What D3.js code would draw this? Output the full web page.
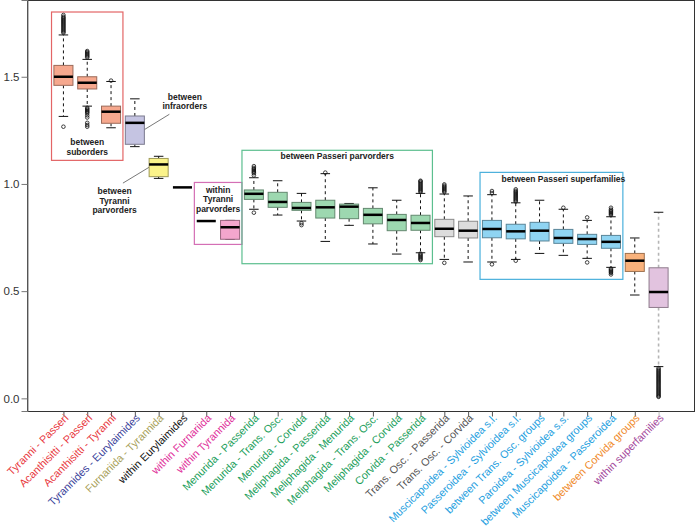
<!DOCTYPE html>
<html><head><meta charset="utf-8">
<script src="https://cdn.jsdelivr.net/npm/d3@7"></script>
<style>body{margin:0;background:#fff}svg{display:block;font-family:"Liberation Sans",Arial,sans-serif}</style>
</head><body><svg id="c" width="696" height="530"></svg>
<script>
const categories = ["Tyranni - Passeri","Acanthisitti - Passeri","Acanthisitti - Tyranni","Tyrannides - Eurylaimides","Furnariida - Tyrannida","within Eurylaimides","within Furnariida","within Tyrannida","Menurida - Passerida","Menurida - Trans. Osc.","Menurida - Corvida","Meliphagida - Passerida","Meliphagida - Menurida","Meliphagida - Trans. Osc.","Meliphagida - Corvida","Corvida - Passerida","Trans. Osc. - Passerida","Trans. Osc. - Corvida","Muscicapoidea - Sylvioidea s.l.","Passeroidea - Sylvioidea s.l.","between Trans. Osc. groups","Paroidea - Sylvioidea s.s.","between Muscicapoidea groups","Muscicapoidea - Passeroidea","between Corvida groups","within superfamilies"];
const groups = ["sub","sub","sub","infra","tyrpar","eur","wtyr","wtyr","pp","pp","pp","pp","pp","pp","pp","pp","trans","trans","sup","sup","sup","sup","sup","sup","corv","wsup"];
const medians = [1.500,1.472,1.337,1.285,1.091,0.984,0.827,0.798,0.954,0.916,0.888,0.891,0.894,0.856,0.832,0.818,0.791,0.782,0.790,0.779,0.782,0.748,0.743,0.730,0.642,0.496];
const q1s = [1.460,1.443,1.283,1.185,1.034,0.984,0.827,0.742,0.928,0.891,0.877,0.841,0.838,0.814,0.782,0.784,0.754,0.748,0.749,0.744,0.734,0.723,0.718,0.700,0.592,0.424];
const q3s = [1.553,1.500,1.363,1.317,1.119,0.984,0.827,0.830,0.972,0.961,0.914,0.924,0.906,0.886,0.858,0.854,0.835,0.826,0.830,0.812,0.821,0.788,0.765,0.760,0.676,0.609];
const whiskerLow = [1.315,1.363,1.262,1.174,1.026,0.984,0.827,0.742,0.882,0.855,0.827,0.732,0.807,0.720,0.673,0.679,0.648,0.636,0.636,0.648,0.676,0.667,0.653,0.611,0.482,0.148];
const whiskerHigh = [1.695,1.581,1.478,1.397,1.129,0.984,0.827,0.830,1.029,1.015,0.956,1.048,0.909,0.982,0.924,0.956,0.953,0.944,0.950,0.912,0.924,0.882,0.830,0.847,0.748,0.868];
const outliers = [
  [1.267,1.705,1.71,1.715,1.72,1.725,1.73,1.735,1.74,1.745,1.75,1.755,1.76,1.765,1.77,1.775,1.78,1.788],
  [1.59,1.595,1.60,1.605,1.61,1.615,1.62,1.355,1.35,1.345,1.34,1.335,1.33,1.32,1.31,1.285,1.275,1.267],
  [1.482],[],[],[],[],[],
  [1.04,1.05,1.055,1.06,1.065,1.07,1.075,1.083,0.866],
  [],[0.817,0.808],[1.053],[],[],[],
  [0.962,0.967,0.972,0.977,0.982,0.987,0.992,0.997,1.002,1.007,1.012,1.015,0.675,0.67,0.665,0.66,0.655,0.65,0.645],
  [0.962,0.967,0.972,0.977,0.982,0.987,0.992,0.998,0.632],
  [],[0.958,0.967,0.625],
  [0.918,0.923,0.928,0.933,0.938,0.943,0.948,0.953,0.958,0.963,0.968,0.975,0.642],
  [],[0.889],[0.844,0.634],
  [0.855,0.86,0.865,0.87,0.875,0.88,0.889,0.605,0.6,0.595,0.59,0.585,0.578],
  [],
  [0.141,0.135,0.13,0.125,0.12,0.115,0.11,0.105,0.1,0.095,0.09,0.085,0.08,0.075,0.07,0.065,0.06,0.055,0.05,0.045,0.04,0.035,0.03,0.025,0.02,0.015,0.01,0.007]
];
const yTicks = [0, 0.5, 1.0, 1.5];
const fillColors = {sub:"#f6a88e",infra:"#c5c4e2",tyrpar:"#fbf38a",eur:"none",wtyr:"#f3a6cd",pp:"#9dd8b0",trans:"#dcdcdc",sup:"#8fd4f2",corv:"#f9b27c",wsup:"#e2c3df"};
const labelColors = {sub:"#e8383d",infra:"#3a3f9a",tyrpar:"#a89f5a",eur:"#111111",wtyr:"#e0309a",pp:"#1a9e5a",trans:"#555555",sup:"#1ea0e0",corv:"#f08a2a",wsup:"#a3479c"};
// annotation frames: [first category index, last index, value top, value bottom]
const frames = [
  {i0:0,i1:2,top:1.802,bottom:1.110,color:"#e36566",lines:["between","suborders"],tx:1,ty:[1.195,1.148]},
  {i0:6,i1:7,top:1.007,bottom:0.718,color:"#d46fb5",lines:["within","Tyranni","parvorders"],tx:6.5,ty:[0.974,0.929,0.884]},
  {i0:8,i1:15,top:1.157,bottom:0.628,color:"#5cbf8f",lines:["between Passeri parvorders"],tx:11.5,ty:[1.128]},
  {i0:18,i1:23,top:1.054,bottom:0.555,color:"#4ab0dc",lines:["between Passeri superfamilies"],tx:21,ty:[1.025]}
];
const callouts = [
  {lines:["between","infraorders"],tx:5.1,ty:[1.405,1.362],from:[3.35,1.250],to:[4.45,1.325]},
  {lines:["between","Tyranni","parvorders"],tx:2.15,ty:[0.966,0.919,0.877],from:[2.5,1.004],to:[3.6,1.078]}
];

const svg = d3.select("#c");
const L = 27, R = 695, T = 0, B = 411;
const x = d3.scalePoint().domain(categories).range([L, R]).padding(1.53);
const y = d3.scaleLinear().domain([-0.059, 1.858]).range([B, T]);
const step = x.step();
const xi = i => x(categories[0]) + i * step;
const bw = step * 0.8, cw = bw / 2;

// frame
svg.append("rect").attr("x", L + 0.5).attr("y", T + 0.5).attr("width", R - L - 1).attr("height", B - T)
  .attr("fill", "none").attr("stroke", "#333").attr("stroke-width", 1);
// y axis
const ya = svg.append("g").attr("transform", `translate(${L + 0.5},0)`)
  .call(d3.axisLeft(y).tickValues(yTicks).tickFormat(d3.format(".1f")).tickSize(6).tickPadding(2));
ya.select(".domain").attr("stroke", "#777");
ya.selectAll(".tick line").attr("stroke", "#777");
ya.selectAll(".tick text").attr("font-size", 11.5).attr("fill", "#333").attr("font-family", "Liberation Sans, Arial, sans-serif");
// x axis ticks
const xa = svg.append("g").attr("transform", `translate(0,${B + 0.5})`)
  .call(d3.axisBottom(x).tickSize(5).tickFormat(""));
xa.select(".domain").remove();
xa.selectAll(".tick line").attr("stroke", (d, i) => i === categories.length - 1 ? "#bbb" : "#555");
// rotated labels
svg.append("g").selectAll("text").data(categories).join("text")
  .attr("transform", d => `translate(${x(d) + 3},${B + 5}) rotate(-45)`)
  .attr("text-anchor", "end").attr("font-size", 10.8).attr("dy", "0.35em")
  .attr("fill", (d, i) => labelColors[groups[i]]).text(d => d);

// annotation frames
frames.forEach(f => {
  svg.append("rect").attr("x", xi(f.i0 - 0.5)).attr("y", y(f.top))
    .attr("width", xi(f.i1 + 0.5) - xi(f.i0 - 0.5)).attr("height", y(f.bottom) - y(f.top))
    .attr("fill", "none").attr("stroke", f.color).attr("stroke-width", 1.2);
  f.lines.forEach((t, k) => svg.append("text").attr("x", xi(f.tx)).attr("y", y(f.ty[k]))
    .attr("text-anchor", "middle").attr("dy", "0.35em").attr("font-size", 8.5).attr("font-weight", "bold").attr("fill", "#222").text(t));
});
callouts.forEach(c => {
  svg.append("line").attr("x1", xi(c.from[0])).attr("y1", y(c.from[1])).attr("x2", xi(c.to[0])).attr("y2", y(c.to[1]))
    .attr("stroke", "#555").attr("stroke-width", 0.8);
  c.lines.forEach((t, k) => svg.append("text").attr("x", xi(c.tx)).attr("y", y(c.ty[k]))
    .attr("text-anchor", "middle").attr("dy", "0.35em").attr("font-size", 8.5).attr("font-weight", "bold").attr("fill", "#222").text(t));
});

// boxes
const g = svg.append("g");
categories.forEach((c, i) => {
  const cx = x(c), grp = groups[i];
  const wcol = grp === "wsup" ? "#b5b5b5" : "#111";
  if (whiskerHigh[i] > q3s[i]) g.append("line").attr("x1", cx).attr("x2", cx).attr("y1", y(q3s[i])).attr("y2", y(whiskerHigh[i]))
    .attr("stroke", wcol).attr("stroke-width", grp === "wsup" ? 1.6 : 1).attr("stroke-dasharray", "3,3");
  if (whiskerLow[i] < q1s[i]) g.append("line").attr("x1", cx).attr("x2", cx).attr("y1", y(q1s[i])).attr("y2", y(whiskerLow[i]))
    .attr("stroke", wcol).attr("stroke-width", grp === "wsup" ? 1.6 : 1).attr("stroke-dasharray", "3,3");
  if (grp !== "eur" && i !== 6) {
    [whiskerHigh[i], whiskerLow[i]].forEach(v => g.append("line").attr("x1", cx - cw / 2).attr("x2", cx + cw / 2)
      .attr("y1", y(v)).attr("y2", y(v)).attr("stroke", "#111").attr("stroke-width", 1));
  }
  if (q3s[i] > q1s[i]) {
    const f = fillColors[grp];
    g.append("rect").attr("x", cx - bw / 2).attr("y", y(q3s[i])).attr("width", bw).attr("height", y(q1s[i]) - y(q3s[i]))
      .attr("fill", f).attr("stroke", d3.color(f).darker(1.3)).attr("stroke-width", 1);
  }
  g.append("line").attr("x1", cx - bw / 2).attr("x2", cx + bw / 2).attr("y1", y(medians[i])).attr("y2", y(medians[i]))
    .attr("stroke", "#000").attr("stroke-width", 2.5);
  g.selectAll(null).data(outliers[i]).join("circle").attr("cx", cx).attr("cy", v => y(v)).attr("r", 1.8)
    .attr("fill", "none").attr("stroke", "#111").attr("stroke-width", 0.8);
});
</script></body></html>
